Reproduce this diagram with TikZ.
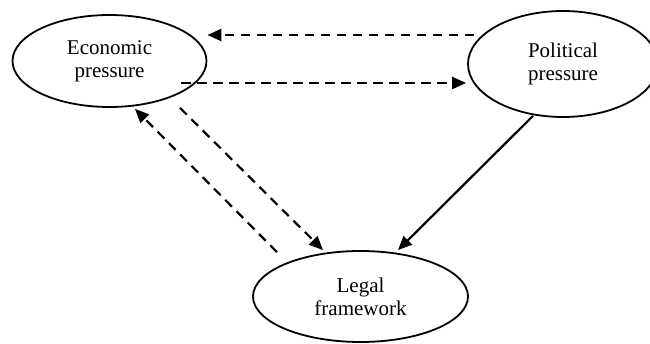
\documentclass[tikz,border=0pt]{standalone}
\usepackage{fontspec}
\setmainfont{Liberation Serif}
\usetikzlibrary{shapes.geometric,arrows.meta,positioning}
\begin{document}
\begin{tikzpicture}[x=1pt,y=1pt,
  oval/.style={draw,ellipse,line width=1.8pt,inner sep=0pt,align=center,
    font=\fontsize{21}{23}\selectfont},
  dasharrow/.style={line width=2.2pt,dash pattern=on 9.5pt off 6.5pt,
    -{Triangle[length=14pt,width=12pt]}},
  solidarrow/.style={line width=2.2pt,-{Triangle[length=14pt,width=12pt]}}]
\useasboundingbox (0,0) rectangle (650,-344);
\node[oval,minimum width=194pt,minimum height=92pt] (eco) at (109.5,-61) {Economic\\pressure};
\node[oval,minimum width=190pt,minimum height=106pt] (pol) at (563,-64) {Political\\pressure};
\node[oval,minimum width=215pt,minimum height=91pt] (leg) at (360.5,-296.5) {Legal\\framework};
% Political -> Economic (top)
\draw[dasharrow] ([xshift=7pt,yshift=29pt]pol.west) -- ([yshift=26pt]eco.east);
% Economic -> Political
\draw[dasharrow] ([xshift=-26pt,yshift=-22pt]eco.east) -- ([xshift=-1pt,yshift=-19pt]pol.west);
% Economic -> Legal
\draw[dasharrow] ([xshift=70.5pt]eco.south) -- ([xshift=-37.5pt]leg.north);
% Legal -> Economic
\draw[dasharrow] ([xshift=-83.5pt,yshift=-2pt]leg.north) -- ([xshift=25.5pt,yshift=-1pt]eco.south);
% Political -> Legal
\draw[solidarrow] ([xshift=-30pt,yshift=2pt]pol.south) -- ([xshift=37.5pt]leg.north);
\end{tikzpicture}
\end{document}
